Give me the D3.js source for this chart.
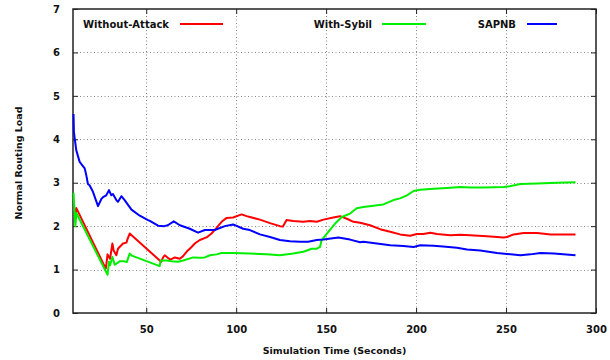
<!DOCTYPE html>
<html>
<head>
<meta charset="utf-8">
<script src="https://cdn.jsdelivr.net/npm/d3@7"></script>
<style>
  body { margin: 0; background: #fff; }
  svg { display: block; }
  text { font-family: "DejaVu Sans", sans-serif; font-weight: bold; fill: #111; }
</style>
</head>
<body>
<div id="chart"></div>
<script>
// values (time in seconds, normal routing load)
const xTicks = [50, 100, 150, 200, 250, 300];
const yTicks = [0, 1, 2, 3, 4, 5, 6, 7];
const seriesNames = ['Without-Attack', 'With-Sybil', 'SAPNB'];
const seriesColors = ['#ff0000', '#00ee00', '#0000ff'];

const attackTime = [10.6, 11.1, 27.5, 27.9, 28.5, 29.3, 29.9, 31.2, 31.9, 33.4, 34.3, 35.2, 37.1, 39, 39.6, 40.8,
  57.5, 58.3, 59.4, 60.3, 62, 63.5, 65.9, 68.7, 70.5, 72.4, 75.2, 77, 79.8, 83.5, 86.3, 89.1, 91.9, 94.7, 98.3,
  103, 105.8, 107.6, 113.2, 118.8, 124.3, 126, 128, 131.7, 137.3, 141, 144.8, 148.5, 154, 157.7, 161.5, 165.2,
  168.9, 174.4, 180, 185.6, 191.1, 196.7, 200.4, 204, 207.9, 211.6, 219, 224.6, 230.1, 239.4, 248.7, 250.5,
  254.2, 259.8, 267.3, 274.7, 288.6];
const attackLoad = [2.30, 2.42, 1.02, 1.14, 1.35, 1.29, 1.25, 1.60, 1.44, 1.33, 1.48, 1.52, 1.60, 1.62, 1.70, 1.83,
  1.21, 1.18, 1.28, 1.33, 1.27, 1.23, 1.28, 1.25, 1.31, 1.41, 1.52, 1.60, 1.68, 1.74, 1.83, 1.96, 2.10, 2.19, 2.20,
  2.27, 2.23, 2.21, 2.15, 2.07, 2.00, 1.99, 2.14, 2.12, 2.10, 2.12, 2.10, 2.15, 2.20, 2.23, 2.17, 2.10,
  2.08, 2.02, 1.93, 1.87, 1.81, 1.78, 1.82, 1.82, 1.85, 1.82, 1.79, 1.80, 1.79, 1.77, 1.74, 1.75,
  1.81, 1.84, 1.84, 1.81, 1.81];

const sybilTime = [9.6, 10, 10.6, 11.2, 11.8, 28.5, 29.3, 29.9, 31.2, 32.5, 34.3, 35.2, 38, 39.2, 40.8, 42,
  57.5, 58, 61.2, 64, 67.7, 70.5, 76.1, 79.8, 82.6, 85.4, 89.1, 91.9, 98.3, 107.6, 113.2, 116.9, 124.3, 131.7,
  137.3, 142, 144.8, 146.6, 147.5, 151.2, 155, 158.7, 163.3, 167, 170.7, 176.3, 181.8, 187.4, 191.1, 194.9,
  198.6, 202.3, 209.7, 217.2, 224.6, 230.1, 237.5, 248.7, 252, 258, 267.3, 278.4, 288.6];
const sybilLoad = [2.77, 2.45, 2.00, 2.30, 2.25, 0.88, 1.18, 1.10, 1.29, 1.11, 1.16, 1.19, 1.19, 1.17, 1.37, 1.32,
  1.08, 1.21, 1.21, 1.19, 1.18, 1.21, 1.28, 1.27, 1.28, 1.33, 1.35, 1.38, 1.38, 1.37, 1.36, 1.35, 1.33, 1.37,
  1.41, 1.48, 1.48, 1.52, 1.68, 1.87, 2.06, 2.21, 2.29, 2.41, 2.44, 2.47, 2.50, 2.60, 2.64, 2.71,
  2.81, 2.84, 2.86, 2.88, 2.90, 2.89, 2.89, 2.90, 2.92, 2.97, 2.98, 3.00, 3.01];

const sapnbTime = [9.6, 9.8, 11.1, 13, 14.5, 15.8, 16.7, 17.6, 18.5, 20.4, 23.2, 25, 26, 27.8, 29.3, 30.6, 31.5,
  33.4, 34.3, 36.2, 38, 41.8, 46.4, 51, 52, 56.6, 60, 62, 65.3, 68.7, 74.2, 78.8, 82.6, 88.1, 93.7, 98.3, 103.9,
  107.6, 113.2, 118.8, 124.3, 129.9, 135.5, 140, 144.8, 148.5, 156.8, 163.3, 168.9, 170.7, 178.2, 185.6, 193,
  198.6, 202.3, 209.7, 215, 222.7, 228.3, 235.7, 237.5, 245, 250.5, 258, 263.6, 269.1, 276.6, 288.6];
const sapnbLoad = [4.58, 4.17, 3.75, 3.48, 3.40, 3.33, 3.17, 2.97, 2.94, 2.79, 2.46, 2.62, 2.67, 2.71, 2.83, 2.71, 2.74,
  2.60, 2.56, 2.69, 2.60, 2.38, 2.24, 2.14, 2.12, 2.01, 2.00, 2.02, 2.11, 2.02, 1.94, 1.85, 1.91, 1.91, 2.00, 2.04, 1.94,
  1.91, 1.81, 1.75, 1.68, 1.65, 1.64, 1.64, 1.68, 1.69, 1.74, 1.69, 1.63, 1.64, 1.60, 1.56, 1.54,
  1.52, 1.56, 1.55, 1.53, 1.50, 1.46, 1.44, 1.43, 1.38, 1.36, 1.33, 1.35, 1.38, 1.37, 1.33];

const width = 610;
const height = 360;
const plot = { left: 73, right: 596, top: 9, bottom: 313 };

const svg = d3.select('#chart')
  .append('svg')
  .attr('width', width)
  .attr('height', height);

const x = d3.scaleLinear().domain([9.3, 300]).range([plot.left, plot.right]);
const y = d3.scaleLinear().domain([0, 7]).range([plot.bottom, plot.top]);

// dotted grid
const grid = svg.append('g').attr('class', 'grid')
  .attr('stroke', '#888').attr('stroke-width', 1).attr('stroke-dasharray', '1,2.5');
grid.selectAll('.gx')
  .data(xTicks.filter(d => d < 300))
  .join('line')
  .attr('x1', d => Math.round(x(d)) + 0.5).attr('x2', d => Math.round(x(d)) + 0.5)
  .attr('y1', plot.top).attr('y2', plot.bottom);
grid.selectAll('.gy')
  .data(yTicks.filter(d => d > 0 && d < 7))
  .join('line')
  .attr('x1', plot.left).attr('x2', plot.right)
  .attr('y1', d => Math.round(y(d)) + 0.5).attr('y2', d => Math.round(y(d)) + 0.5);

// axes: inward ticks, mirrored on top and right
const tickLen = 5;
const xBottom = d3.axisBottom(x).tickValues(xTicks).tickSizeInner(-tickLen).tickSizeOuter(0).tickPadding(13)
  .tickFormat(d3.format('d'));
const xTop = d3.axisTop(x).tickValues(xTicks).tickSizeInner(-tickLen).tickSizeOuter(0).tickFormat('');
const yLeft = d3.axisLeft(y).tickValues(yTicks).tickSizeInner(-tickLen).tickSizeOuter(0).tickPadding(13)
  .tickFormat(d3.format('d'));
const yRight = d3.axisRight(y).tickValues(yTicks).tickSizeInner(-tickLen).tickSizeOuter(0).tickFormat('');

function styleAxis(g) {
  g.select('.domain').remove();
  g.selectAll('line').attr('stroke', '#222').attr('stroke-width', 1);
  g.selectAll('text').attr('font-size', 10).attr('font-family', '"DejaVu Sans", sans-serif')
    .attr('font-weight', 'bold').attr('fill', '#111');
}

svg.append('g').attr('transform', `translate(0,${plot.bottom})`).call(xBottom).call(styleAxis);
svg.append('g').attr('transform', `translate(0,${plot.top})`).call(xTop).call(styleAxis);
svg.append('g').attr('transform', `translate(${plot.left},0)`).call(yLeft).call(styleAxis);
svg.append('g').attr('transform', `translate(${plot.right},0)`).call(yRight).call(styleAxis);

// frame
svg.append('rect')
  .attr('x', plot.left).attr('y', plot.top)
  .attr('width', plot.right - plot.left).attr('height', plot.bottom - plot.top)
  .attr('fill', 'none').attr('stroke', '#222').attr('stroke-width', 1.5);

// series
const series = [
  { name: seriesNames[0], color: seriesColors[0], time: attackTime, load: attackLoad },
  { name: seriesNames[1], color: seriesColors[1], time: sybilTime, load: sybilLoad },
  { name: seriesNames[2], color: seriesColors[2], time: sapnbTime, load: sapnbLoad }
];

const line = d3.line()
  .x(d => x(d[0]))
  .y(d => y(d[1]));

svg.append('g').attr('class', 'lines')
  .selectAll('path')
  .data(series)
  .join('path')
  .attr('d', s => line(s.time.map((t, i) => [t, s.load[i]])))
  .attr('fill', 'none')
  .attr('stroke', s => s.color)
  .attr('stroke-width', 2)
  .attr('stroke-linejoin', 'round');

// legend (text right-aligned, sample line to its right)
const legendY = 24;
const legendTextEnd = [169, 372, 516];
const legendLine = [[180, 223], [382, 426], [527, 557]];
const legend = svg.append('g').attr('class', 'legend');
series.forEach((s, i) => {
  legend.append('text')
    .attr('x', legendTextEnd[i])
    .attr('y', legendY)
    .attr('text-anchor', 'end')
    .attr('dominant-baseline', 'central')
    .attr('font-size', 10)
    .text(s.name);
  legend.append('line')
    .attr('x1', legendLine[i][0]).attr('x2', legendLine[i][1])
    .attr('y1', legendY).attr('y2', legendY)
    .attr('stroke', s.color)
    .attr('stroke-width', 2);
});

// axis titles
svg.append('text')
  .attr('x', (plot.left + plot.right) / 2)
  .attr('y', 354)
  .attr('text-anchor', 'middle')
  .attr('font-size', 9.5)
  .text('Simulation Time (Seconds)');

svg.append('text')
  .attr('transform', `translate(22,${(plot.top + plot.bottom) / 2 + 2}) rotate(-90)`)
  .attr('text-anchor', 'middle')
  .attr('font-family', '"Liberation Sans", sans-serif')
  .attr('font-size', 9.5)
  .text('Normal Routing Load');
</script>
</body>
</html>
